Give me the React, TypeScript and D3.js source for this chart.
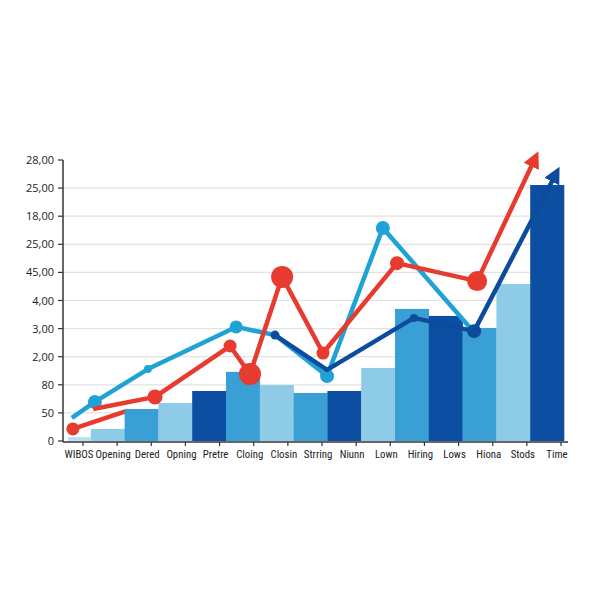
import React, { useEffect, useRef } from 'react';
import * as d3 from 'd3';

// category labels along the bottom
const categories = ['WIBOS', 'Opening', 'Dered', 'Opning', 'Pretre', 'Cloing', 'Closin', 'Strring', 'Niunn', 'Lown', 'Hiring', 'Lows', 'Hiona', 'Stods', 'Time'];

// y tick labels, bottom to top (one per grid step)
const yTickLabels = ['0', '50', '80', '2,00', '3,00', '4,00', '45,00', '25,00', '18,00', '25,00', '28,00'];

// bar heights in grid steps
const barValues = [0.14, 0.43, 1.14, 1.35, 1.78, 2.46, 1.99, 1.71, 1.78, 2.6, 4.7, 4.45, 4.02, 5.59, 9.11];
const barShades = ['lightest', 'light', 'mid', 'light', 'dark', 'mid', 'light', 'mid', 'dark', 'light', 'mid', 'dark', 'mid', 'light', 'dark'];

// line series: [category position, value, dot radius]
const cyanPoints: [number, number, number][] = [
    [0.44, 0.82, 0], [1.12, 1.39, 7], [2.69, 2.56, 4], [5.3, 4.06, 6.5], [6.45, 3.77, 0],
    [7.99, 2.31, 7], [9.64, 7.58, 7], [12.28, 3.95, 0],
];
const navyPoints: [number, number, number][] = [
    [6.45, 3.77, 4.5], [7.99, 2.53, 0], [10.56, 4.38, 4], [12.34, 3.91, 7], [14.8, 9.6, 0],
];
const redLead: [number, number, number][] = [[0.47, 0.43, 6.5], [2.07, 1.07, 0]];
const redPoints: [number, number, number][] = [
    [1.07, 1.14, 0], [2.9, 1.57, 7.5], [5.12, 3.38, 6.5], [5.71, 2.38, 11], [6.66, 5.84, 11],
    [7.87, 3.13, 6.5], [10.06, 6.33, 7], [12.43, 5.69, 10], [14.18, 10.15, 0],
];

const shadeColor: Record<string, string> = {
    lightest: '#b9dff1',
    light: '#8dcbe7',
    mid: '#3a9fd4',
    dark: '#0c4ea1',
};

const App: React.FC = () => {
    const ref = useRef<SVGSVGElement | null>(null);

    useEffect(() => {
        if (!ref.current) return;
        const width = 614;
        const height = 614;
        const left = 63;
        const right = 564;
        const bottom = 441;
        const top = 160;

        d3.select(ref.current).selectAll('*').remove();
        const svg = d3.select(ref.current).attr('width', width).attr('height', height);

        const y = d3.scaleLinear().domain([0, 10]).range([bottom, top]);
        const band = d3.scaleBand<string>().domain(categories).range([57, right]);
        const xu = d3.scaleLinear().domain([0, 15]).range([57, right]);
        const xl = d3.scalePoint<string>().domain(categories).range([79, 557]);

        const defs = svg.append('defs');
        const addArrow = (id: string, color: string) => {
            defs.append('marker')
                .attr('id', id)
                .attr('viewBox', '0 0 10 10')
                .attr('refX', 7)
                .attr('refY', 5)
                .attr('markerWidth', 3.7)
                .attr('markerHeight', 3.7)
                .attr('orient', 'auto')
                .append('path')
                .attr('d', 'M0,0 L10,5 L0,10 Z')
                .attr('fill', color);
        };
        addArrow('arrow-red', '#e63b2e');
        addArrow('arrow-navy', '#0d4c9c');

        // grid
        svg.append('g')
            .selectAll('line')
            .data(d3.range(1, 10))
            .enter()
            .append('line')
            .attr('x1', left)
            .attr('x2', right)
            .attr('y1', d => y(d))
            .attr('y2', d => y(d))
            .attr('stroke', '#e2e2e2')
            .attr('stroke-width', 1.2);

        const line = d3.line<[number, number, number]>()
            .x(d => xu(d[0]))
            .y(d => y(d[1]));

        // red lead segment sits behind the bars
        svg.append('path')
            .datum(redLead)
            .attr('fill', 'none')
            .attr('stroke', '#e63b2e')
            .attr('stroke-width', 4.5)
            .attr('d', line);

        // bars (first one starts a little right of the axis)
        svg.append('g')
            .selectAll('rect')
            .data(barValues)
            .enter()
            .append('rect')
            .attr('x', (d, i) => (i === 0 ? band(categories[i])! + 11 : band(categories[i])!))
            .attr('y', d => y(d))
            .attr('width', (d, i) => (i === 0 ? band.bandwidth() - 11 : band.bandwidth() + 0.3))
            .attr('height', d => bottom - y(d))
            .attr('fill', (d, i) => shadeColor[barShades[i]]);

        const drawSeries = (pts: [number, number, number][], color: string, marker?: string) => {
            const p = svg.append('path')
                .datum(pts)
                .attr('fill', 'none')
                .attr('stroke', color)
                .attr('stroke-width', 4.5)
                .attr('stroke-linejoin', 'round')
                .attr('d', line);
            if (marker) p.attr('marker-end', `url(#${marker})`);
            svg.append('g')
                .selectAll('circle')
                .data(pts.filter(d => d[2] > 0))
                .enter()
                .append('circle')
                .attr('cx', d => xu(d[0]))
                .attr('cy', d => y(d[1]))
                .attr('r', d => d[2])
                .attr('fill', color);
        };

        svg.append('circle')
            .attr('cx', xu(redLead[0][0]))
            .attr('cy', y(redLead[0][1]))
            .attr('r', redLead[0][2])
            .attr('fill', '#e63b2e');

        drawSeries(cyanPoints, '#1fa3d6');
        drawSeries(navyPoints, '#0d4c9c', 'arrow-navy');
        drawSeries(redPoints, '#e63b2e', 'arrow-red');

        const font = "'Liberation Sans Narrow', 'Roboto Condensed', 'DejaVu Sans Condensed', sans-serif";

        // y axis
        const yAxis = svg.append('g').attr('font-family', 'Open Sans, sans-serif');
        yAxis.append('line')
            .attr('x1', left).attr('x2', left)
            .attr('y1', top).attr('y2', bottom + 1)
            .attr('stroke', '#333').attr('stroke-width', 1.5);
        yAxis.selectAll('line.tick')
            .data(yTickLabels)
            .enter()
            .append('line')
            .attr('class', 'tick')
            .attr('x1', left - 5).attr('x2', left)
            .attr('y1', (d, i) => y(i)).attr('y2', (d, i) => y(i))
            .attr('stroke', '#333').attr('stroke-width', 1.2);
        yAxis.selectAll('text')
            .data(yTickLabels)
            .enter()
            .append('text')
            .attr('x', 54)
            .attr('y', (d, i) => y(i) + 4)
            .attr('text-anchor', 'end')
            .style('font-size', '11px')
            .style('fill', '#222')
            .text(d => d);

        // x axis
        const xAxis = svg.append('g').attr('font-family', font);
        xAxis.append('line')
            .attr('x1', left).attr('x2', 568)
            .attr('y1', bottom + 1).attr('y2', bottom + 1)
            .attr('stroke', '#333').attr('stroke-width', 1.5);
        xAxis.selectAll('line.tick')
            .data(categories)
            .enter()
            .append('line')
            .attr('class', 'tick')
            .attr('x1', d => xl(d)! + 4).attr('x2', d => xl(d)! + 4)
            .attr('y1', bottom + 1).attr('y2', bottom + 5)
            .attr('stroke', '#333').attr('stroke-width', 1.2);
        xAxis.selectAll('text')
            .data(categories)
            .enter()
            .append('text')
            .attr('x', d => xl(d)!)
            .attr('y', 458)
            .attr('text-anchor', 'middle')
            .style('font-size', '10.8px')
            .style('fill', '#222')
            .text(d => d);
    }, []);

    return <svg ref={ref} style={{ position: 'absolute', left: 0, top: 0, background: '#fff' }} />;
};

export default App;
